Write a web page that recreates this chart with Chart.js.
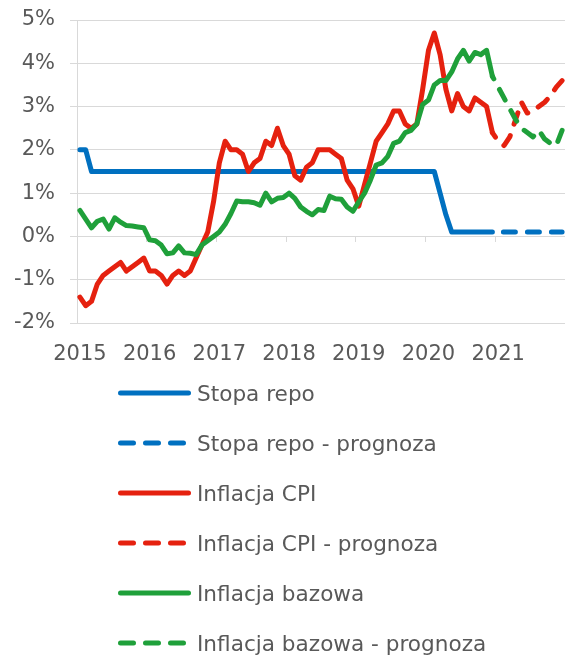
<!DOCTYPE html>
<html lang="pl">
<head>
<meta charset="utf-8">
<title>Stopa repo i inflacja</title>
<script src="https://cdn.jsdelivr.net/npm/chart.js@4.4.1/dist/chart.umd.min.js"></script>
<style>
  html, body { margin: 0; padding: 0; background: #fff; overflow: hidden; }
  #wrap { position: relative; width: 565px; height: 655px; }
  #chart { position: absolute; left: 0; top: 0; }
  #legend {
    position: absolute; left: 0; top: 368px;
    font-family: "DejaVu Sans", Verdana, sans-serif; font-size: 21.6px; color: #595959;
  }
  .item { display: flex; align-items: center; height: 50px; white-space: nowrap; }
  .item svg { margin-left: 115px; flex: none; }
</style>
</head>
<body>
<div id="wrap">
  <canvas id="chart" width="565" height="375"></canvas>
  <div id="legend"></div>
</div>
<script>
// months Jan 2015 .. Dec 2021
const years = ["2015", "2016", "2017", "2018", "2019", "2020", "2021"];
const months = [];
years.forEach(y => {
  for (let m = 1; m <= 12; m++) months.push(y + "-" + String(m).padStart(2, "0"));
});

// actual data, Jan 2015 .. Dec 2020
const repoRate = [
  2.0, 2.0, 1.5, 1.5, 1.5, 1.5, 1.5, 1.5, 1.5, 1.5, 1.5, 1.5,
  1.5, 1.5, 1.5, 1.5, 1.5, 1.5, 1.5, 1.5, 1.5, 1.5, 1.5, 1.5,
  1.5, 1.5, 1.5, 1.5, 1.5, 1.5, 1.5, 1.5, 1.5, 1.5, 1.5, 1.5,
  1.5, 1.5, 1.5, 1.5, 1.5, 1.5, 1.5, 1.5, 1.5, 1.5, 1.5, 1.5,
  1.5, 1.5, 1.5, 1.5, 1.5, 1.5, 1.5, 1.5, 1.5, 1.5, 1.5, 1.5,
  1.5, 1.5, 1.0, 0.5, 0.1, 0.1, 0.1, 0.1, 0.1, 0.1, 0.1, 0.1
];
const cpi = [
  -1.4, -1.6, -1.5, -1.1, -0.9, -0.8, -0.7, -0.6, -0.8, -0.7, -0.6, -0.5,
  -0.8, -0.8, -0.9, -1.1, -0.9, -0.8, -0.9, -0.8, -0.5, -0.2, 0.1, 0.8,
  1.7, 2.2, 2.0, 2.0, 1.9, 1.5, 1.7, 1.8, 2.2, 2.1, 2.5, 2.1,
  1.9, 1.4, 1.3, 1.6, 1.7, 2.0, 2.0, 2.0, 1.9, 1.8, 1.3, 1.1,
  0.7, 1.2, 1.7, 2.2, 2.4, 2.6, 2.9, 2.9, 2.6, 2.5, 2.6, 3.4,
  4.3, 4.7, 4.2, 3.4, 2.9, 3.3, 3.0, 2.9, 3.2, 3.1, 3.0, 2.4
];
const coreInflation = [
  0.6, 0.4, 0.2, 0.35, 0.4, 0.17, 0.43, 0.33, 0.25, 0.24, 0.22, 0.2,
  -0.08, -0.1, -0.2, -0.4, -0.38, -0.22, -0.38, -0.39, -0.42, -0.2, -0.1, 0.0,
  0.1, 0.28, 0.53, 0.82, 0.8, 0.8, 0.78, 0.72, 1.0, 0.8, 0.88, 0.9,
  1.0, 0.88, 0.68, 0.58, 0.5, 0.62, 0.6, 0.93, 0.87, 0.86, 0.68, 0.58,
  0.8, 1.0, 1.3, 1.65, 1.7, 1.85, 2.15, 2.2, 2.4, 2.45, 2.6, 3.05,
  3.15, 3.5, 3.6, 3.6, 3.8, 4.1, 4.3, 4.05, 4.25, 4.2, 4.3, 3.7
];

// forecast, Dec 2020 .. Dec 2021
const forecastMonths = months.slice(71);
const repoForecast = [0.1, 0.1, 0.1, 0.1, 0.1, 0.1, 0.1, 0.1, 0.1, 0.1, 0.1, 0.1, 0.1];
const cpiForecast = [2.4, 2.2, 2.1, 2.3, 2.7, 3.1, 2.85, 2.9, 3.0, 3.1, 3.25, 3.45, 3.6];
const coreForecast = [3.7, 3.45, 3.2, 2.95, 2.7, 2.5, 2.4, 2.3, 2.45, 2.25, 2.15, 2.1, 2.45];

const textColor = "#595959";
const gridColor = "#d9d9d9";
const font = { family: "'DejaVu Sans', Verdana, sans-serif", size: 21 };
const plotDash = [12, 12];
const legendDash = "13 12";

function series(label, data, color, dashOffset, order) {
  return {
    label: label,
    data: data,
    borderColor: color,
    backgroundColor: color,
    borderWidth: 5,
    borderDash: dashOffset === null ? [] : plotDash,
    borderDashOffset: dashOffset || 0,
    borderCapStyle: "round",
    borderJoinStyle: "round",
    pointRadius: 0,
    pointHoverRadius: 0,
    tension: 0,
    fill: false,
    order: order
  };
}

function forecast(values) {
  return forecastMonths.map((m, i) => ({ x: m, y: values[i] }));
}

const chart = new Chart(document.getElementById("chart"), {
  type: "line",
  data: {
    labels: months,
    datasets: [
      series("Stopa repo", repoRate, "#0070c0", null, 3),
      series("Stopa repo - prognoza", forecast(repoForecast), "#0070c0", 13, 3),
      series("Inflacja CPI", cpi, "#e5210f", null, 2),
      series("Inflacja CPI - prognoza", forecast(cpiForecast), "#e5210f", 6.5, 2),
      series("Inflacja bazowa", coreInflation, "#1fa03a", null, 1),
      series("Inflacja bazowa - prognoza", forecast(coreForecast), "#1fa03a", 9, 1)
    ]
  },
  options: {
    responsive: false,
    animation: false,
    devicePixelRatio: 1,
    layout: { padding: { top: 20, right: 0, bottom: 0, left: 0 } },
    plugins: {
      legend: { display: false },
      tooltip: { enabled: false }
    },
    scales: {
      x: {
        type: "category",
        offset: true,
        grid: { display: false, drawTicks: false },
        border: { display: false },
        ticks: {
          color: textColor,
          font: font,
          padding: 19,
          autoSkip: false,
          maxRotation: 0,
          callback: function (v) { return this.getLabelForValue(v).slice(0, 4); }
        },
        afterBuildTicks: axis => { axis.ticks = axis.ticks.filter(t => t.value % 12 === 0); },
        afterFit: axis => { axis.height = 52; }
      },
      // small tick marks on the 0% line at year boundaries
      xMarks: {
        type: "linear",
        axis: "x",
        position: { y: 0 },
        min: -0.5,
        max: 83.5,
        grid: { drawOnChartArea: false, drawTicks: true, tickLength: 6, color: gridColor },
        border: { display: false },
        ticks: { display: false },
        afterBuildTicks: axis => {
          axis.ticks = [11.5, 23.5, 35.5, 47.5, 59.5, 71.5].map(v => ({ value: v }));
        }
      },
      y: {
        min: -2,
        max: 5,
        ticks: {
          stepSize: 1,
          color: textColor,
          font: font,
          padding: 15,
          callback: v => v + "%"
        },
        grid: { color: gridColor, tickLength: 7, drawTicks: true },
        border: { display: true, color: gridColor },
        afterFit: axis => {
          axis.width = 77;
          axis.paddingTop = 0;
          axis.paddingBottom = 0;
        }
      }
    }
  }
});

// legend, one entry per row
const legendEl = document.getElementById("legend");
chart.data.datasets.forEach(ds => {
  const row = document.createElement("div");
  row.className = "item";
  const dash = ds.borderDash.length ? legendDash : "none";
  row.innerHTML =
    '<svg width="82" height="10"><line x1="5.5" y1="5" x2="73.5" y2="5" stroke="' + ds.borderColor +
    '" stroke-width="5" stroke-linecap="round" stroke-dasharray="' + dash + '"/></svg>';
  const span = document.createElement("span");
  span.textContent = ds.label;
  row.appendChild(span);
  legendEl.appendChild(row);
});
</script>
</body>
</html>
